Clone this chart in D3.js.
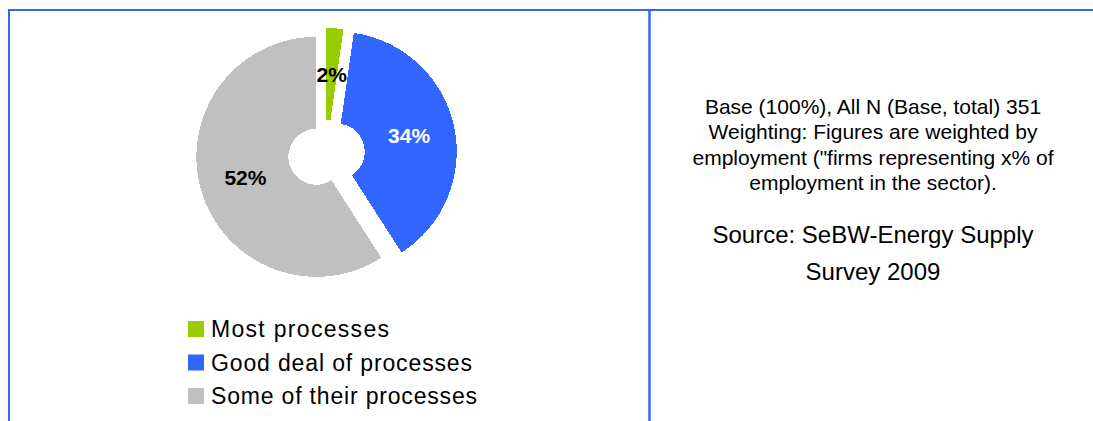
<!DOCTYPE html>
<html>
<head>
<meta charset="utf-8">
<script src="https://cdn.jsdelivr.net/npm/d3@7"></script>
<style>
  html, body { margin: 0; padding: 0; background: #fff; }
  svg { display: block; font-family: "Liberation Sans", Arial, sans-serif; }
</style>
</head>
<body>
<svg id="chart" width="1093" height="421"></svg>
<script>
// Share of processes covered (labels as printed on the slices)
const categories = ["Most processes", "Good deal of processes", "Some of their processes"];
const shares = [2, 34, 52];
const shareLabels = ["2%", "34%", "52%"];
const sliceColors = ["#99CC00", "#3366FF", "#C0C0C0"];
const labelColors = ["#000000", "#FFFFFF", "#000000"];

// Notes shown in the right-hand panel
const baseNotes = [
  "Base (100%), All N (Base, total) 351",
  "Weighting: Figures are weighted by",
  "employment (\"firms representing x% of",
  "employment in the sector)."
];
const sourceNotes = ["Source: SeBW-Energy Supply", "Survey 2009"];

const svg = d3.select("#chart");
const frameColor = "#3366FF";

// Panel frame: top rule, left edge and divider
svg.append("line").attr("x1", 8).attr("x2", 1093).attr("y1", 10).attr("y2", 10)
  .attr("stroke", frameColor).attr("stroke-width", 2);
svg.append("line").attr("x1", 9).attr("x2", 9).attr("y1", 9).attr("y2", 421)
  .attr("stroke", frameColor).attr("stroke-width", 2);
svg.append("line").attr("x1", 649.5).attr("x2", 649.5).attr("y1", 9).attr("y2", 421)
  .attr("stroke", frameColor).attr("stroke-width", 2.5);

// Exploded doughnut
const cx = 326, cy = 154;
const innerR = 28, outerR = 120;
const explode = [6, 11, 10];

const pie = d3.pie().sort(null).value(d => d);
const arcs = pie(shares);
const arc = d3.arc().innerRadius(innerR).outerRadius(outerR);

const g = svg.append("g").attr("transform", `translate(${cx},${cy})`);

const slice = g.selectAll("g.slice")
  .data(arcs)
  .enter().append("g")
  .attr("class", "slice")
  .attr("transform", (d, i) => {
    const mid = (d.startAngle + d.endAngle) / 2;
    return `translate(${Math.sin(mid) * explode[i]},${-Math.cos(mid) * explode[i]})`;
  });

slice.append("path")
  .attr("d", arc)
  .attr("fill", (d, i) => sliceColors[i])
  .attr("shape-rendering", "crispEdges");

slice.append("text")
  .attr("transform", d => `translate(${arc.centroid(d)})`)
  .attr("text-anchor", "middle")
  .attr("dy", "0.36em")
  .attr("font-size", 21)
  .attr("font-weight", "bold")
  .attr("fill", (d, i) => labelColors[i])
  .text((d, i) => shareLabels[i]);

// Legend
const legendX = 188, legendTop = 321, legendStep = 33.5, swatch = 16;
const legendWidths = [178, 261, 266];
const legend = svg.append("g");
categories.forEach((c, i) => {
  const y = legendTop + i * legendStep;
  legend.append("rect")
    .attr("x", legendX).attr("y", y)
    .attr("width", swatch).attr("height", swatch)
    .attr("fill", sliceColors[i]);
  legend.append("text")
    .attr("x", legendX + 23).attr("y", y + swatch)
    .attr("font-size", 23)
    .attr("fill", "#000")
    .attr("textLength", legendWidths[i])
    .attr("lengthAdjust", "spacing")
    .text(c);
});

// Notes panel
const notesX = 873;
const notes = svg.append("g").attr("text-anchor", "middle").attr("fill", "#000");
baseNotes.forEach((t, i) => {
  notes.append("text")
    .attr("x", notesX).attr("y", 114 + i * 25.3)
    .attr("font-size", 21)
    .text(t);
});
sourceNotes.forEach((t, i) => {
  notes.append("text")
    .attr("x", notesX).attr("y", 243 + i * 37)
    .attr("font-size", 24)
    .text(t);
});
</script>
</body>
</html>
